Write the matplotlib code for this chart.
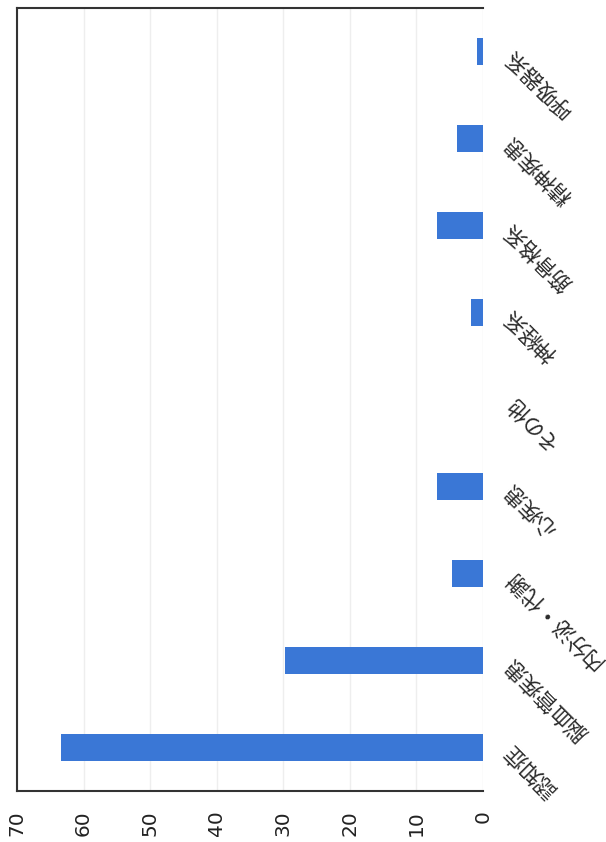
import matplotlib
matplotlib.use("Agg")
import matplotlib.pyplot as plt

# カテゴリと値
categories = ["認知症", "脳血管疾患", "内分泌・代謝", "心疾患", "その他",
              "神経系", "筋骨格系", "精神疾患", "呼吸器系"]
values = [63.4, 29.7, 4.6, 6.9, 0, 1.8, 6.9, 3.9, 0.9]
ticks = [0, 10, 20, 30, 40, 50, 60, 70]

plt.rcParams["font.family"] = ["Noto Sans CJK JP", "DejaVu Sans"]

fig = plt.figure(figsize=(6.06, 8.42), dpi=100)
ax = fig.add_axes([17 / 606, 1 - 791 / 842, 466 / 606, 783 / 842])

pos = list(range(len(categories)))
ax.barh(pos, values, height=0.3, color="#3a77d6", zorder=2)

ax.set_xlim(0, 70)
ax.invert_xaxis()
ax.set_ylim(-0.5, len(categories) - 0.5)

# 縦方向の薄いグリッド
ax.set_xticks(ticks)
ax.grid(axis="x", color="#eeeeee", linewidth=1, zorder=0)
ax.tick_params(axis="x", length=0, pad=14, labelsize=14.5, labelrotation=90)
for lab in ax.get_xticklabels():
    lab.set_fontfamily("DejaVu Sans")
    lab.set_color("#222222")
ax.set_yticks([])

for side in ["left", "top", "bottom"]:
    ax.spines[side].set_color("#333333")
    ax.spines[side].set_linewidth(1.5)
ax.spines["right"].set_visible(False)

# カテゴリラベル（斜め）
trans = ax.get_yaxis_transform()
for p, name in zip(pos, categories):
    ax.text(1.054, p, name, transform=trans, rotation=135,
            rotation_mode="anchor", ha="right", va="center",
            fontsize=15.5, color="#2a2a2a")

fig.savefig("out.png", dpi=100)
plt.close(fig)
